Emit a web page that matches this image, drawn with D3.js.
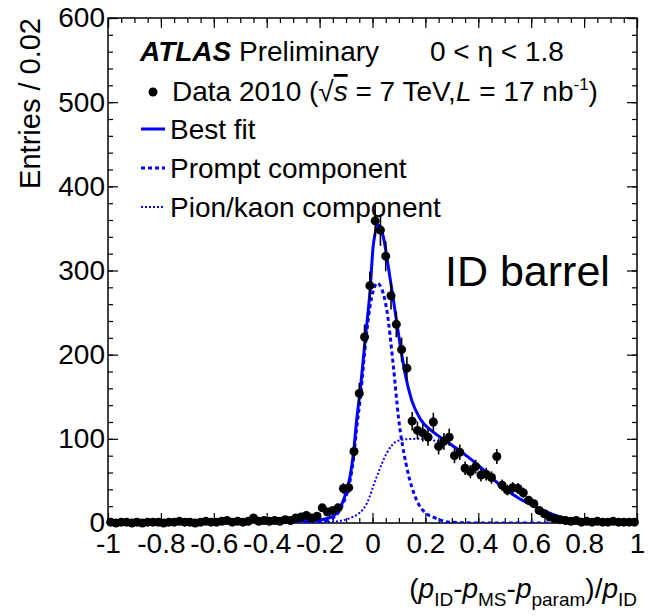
<!DOCTYPE html>
<html>
<head>
<meta charset="utf-8">
<script src="https://cdn.jsdelivr.net/npm/d3@7"></script>
<style>
  body { margin: 0; background: #fff; }
  text { font-family: 'Liberation Sans', Arial, Helvetica, sans-serif; fill: #000; }
</style>
</head>
<body>
<div id="chart"></div>
<script>
// Histogram: 100 bins of width 0.02 from -1 to 1
var binStart = -1
var binWidth = 0.02
var counts = [
  1, 0, 1, 1, 0, 1, 0, 1, 1, 1,
  0, 1, 1, 2, 1, 1, 0, 1, 2, 1,
  1, 2, 3, 1, 2, 1, 2, 6, 2, 3,
  2, 3, 2, 4, 3, 6, 7, 9, 6, 8,
  18, 13, 15, 18, 41, 42, 85, 154, 221, 282,
  359, 348, 317, 270, 236, 206, 184, 121, 110, 107,
  102, 120, 91, 97, 102, 80, 84, 65, 61, 67,
  57, 58, 54, 79, 45, 39, 42, 41, 36, 27,
  23, 15, 11, 7, 5, 4, 3, 2, 3, 1,
  2, 1, 2, 1, 1, 2, 1, 1, 1, 1
]

// fitted curves as [x, entries]
var bestFit = [
  [-1, 1], [-0.5, 1.5], [-0.3, 2], [-0.2, 3.5], [-0.15, 8], [-0.11, 27],
  [-0.085, 55], [-0.072, 83], [-0.06, 122], [-0.045, 162], [-0.028, 217],
  [-0.009, 277], [0.003, 330], [0.022, 354], [0.041, 340], [0.06, 304],
  [0.079, 265], [0.104, 213], [0.123, 178], [0.148, 146], [0.18, 124],
  [0.23, 108], [0.28, 97], [0.33, 86], [0.406, 67], [0.482, 45],
  [0.55, 30], [0.633, 17], [0.7, 8], [0.78, 2], [0.9, 0.5], [1, 0.3]
]
var promptComp = [
  [-1, 0], [-0.3, 0.3], [-0.2, 1.5], [-0.15, 6], [-0.11, 24], [-0.085, 50],
  [-0.072, 76], [-0.06, 112], [-0.045, 152], [-0.028, 208], [-0.009, 258],
  [0.003, 276], [0.018, 285], [0.035, 278], [0.054, 253], [0.079, 186],
  [0.098, 126], [0.129, 67], [0.167, 27], [0.2, 12], [0.23, 7], [0.29, 1],
  [0.4, 0], [1, 0]
]
var pionComp = [
  [-1, 0], [-0.3, 0.2], [-0.15, 1.5], [-0.073, 7.5], [-0.022, 23], [0.016, 55],
  [0.054, 83], [0.091, 97], [0.129, 99.5], [0.17, 100], [0.21, 99],
  [0.25, 97], [0.29, 94], [0.33, 85], [0.406, 67], [0.482, 45],
  [0.55, 30], [0.633, 17], [0.7, 8], [0.78, 2], [0.9, 0.5], [1, 0.3]
]

var xTicks = [-1, -0.8, -0.6, -0.4, -0.2, 0, 0.2, 0.4, 0.6, 0.8, 1]
var yTicks = [0, 100, 200, 300, 400, 500, 600]

var margin = { top: 18, left: 108, right: 11, bottom: 93 }
var width = 648 - margin.left - margin.right
var height = 616 - margin.top - margin.bottom

var svg = d3.select('#chart').append('svg')
  .attr('width', 648)
  .attr('height', 616)

var g = svg.append('g')
  .attr('transform', `translate(${margin.left},${margin.top})`)

var xPositionScale = d3.scaleLinear().domain([-1, 1]).range([0, width])
var yPositionScale = d3.scaleLinear().domain([0, 600]).range([height, 0])

g.append('clipPath').attr('id', 'plot-clip')
  .append('rect').attr('width', width).attr('height', height)

// axes, ticks pointing inwards on all four sides
var fmt = d => String(+d.toFixed(1))

function styleAxis(sel) {
  sel.select('.domain').remove()
  sel.selectAll('line').attr('stroke', '#000').attr('stroke-width', 1.2)
}

g.append('g').attr('transform', `translate(0,${height})`)
  .call(d3.axisBottom(xPositionScale).tickValues(xPositionScale.ticks(40)).tickSize(-5).tickFormat(''))
  .call(styleAxis)
var xAxis = g.append('g').attr('transform', `translate(0,${height})`)
  .call(d3.axisBottom(xPositionScale).tickValues(xTicks).tickSize(-10).tickFormat(fmt))
  .call(styleAxis)
xAxis.selectAll('text')
  .attr('y', 30).attr('dy', 0)
  .style('font-size', '28px')
  .style('font-family', "'Liberation Sans', Arial, sans-serif")

g.append('g')
  .call(d3.axisTop(xPositionScale).tickValues(xPositionScale.ticks(40)).tickSize(-5).tickFormat(''))
  .call(styleAxis)
g.append('g')
  .call(d3.axisTop(xPositionScale).tickValues(xTicks).tickSize(-10).tickFormat(''))
  .call(styleAxis)

g.append('g')
  .call(d3.axisLeft(yPositionScale).tickValues(yPositionScale.ticks(30)).tickSize(-5).tickFormat(''))
  .call(styleAxis)
var yAxis = g.append('g')
  .call(d3.axisLeft(yPositionScale).tickValues(yTicks).tickSize(-10).tickPadding(3))
  .call(styleAxis)
yAxis.selectAll('text')
  .style('font-size', '28px')
  .style('font-family', "'Liberation Sans', Arial, sans-serif")

g.append('g').attr('transform', `translate(${width},0)`)
  .call(d3.axisRight(yPositionScale).tickValues(yPositionScale.ticks(30)).tickSize(-5).tickFormat(''))
  .call(styleAxis)
g.append('g').attr('transform', `translate(${width},0)`)
  .call(d3.axisRight(yPositionScale).tickValues(yTicks).tickSize(-10).tickFormat(''))
  .call(styleAxis)

g.append('rect')
  .attr('width', width).attr('height', height)
  .attr('fill', 'none').attr('stroke', '#000').attr('stroke-width', 1.5)

// curves
var line = d3.line()
  .x(d => xPositionScale(d[0]))
  .y(d => yPositionScale(d[1]))
  .curve(d3.curveMonotoneX)

var curves = g.append('g').attr('clip-path', 'url(#plot-clip)')
curves.append('path').datum(pionComp)
  .attr('d', line).attr('fill', 'none').attr('stroke', '#0000ff')
  .attr('stroke-width', 2).attr('stroke-dasharray', '2,2')
curves.append('path').datum(promptComp)
  .attr('d', line).attr('fill', 'none').attr('stroke', '#0000ff')
  .attr('stroke-width', 3).attr('stroke-dasharray', '4,3')

// data points with sqrt(N) errors
var points = counts.map((c, i) => ({ x: binStart + (i + 0.5) * binWidth, n: c }))

g.selectAll('.err').data(points).enter().append('line')
  .attr('class', 'err')
  .attr('x1', d => xPositionScale(d.x)).attr('x2', d => xPositionScale(d.x))
  .attr('y1', d => yPositionScale(d.n + Math.sqrt(d.n)))
  .attr('y2', d => yPositionScale(Math.max(0, d.n - Math.sqrt(d.n))))
  .attr('stroke', '#000').attr('stroke-width', 1.6)

g.selectAll('.pt').data(points).enter().append('circle')
  .attr('class', 'pt')
  .attr('cx', d => xPositionScale(d.x))
  .attr('cy', d => yPositionScale(d.n))
  .attr('r', 4.5)
  .attr('fill', '#000')

curves.append('path').datum(bestFit)
  .attr('d', line).attr('fill', 'none').attr('stroke', '#0000ff')
  .attr('stroke-width', 3)

// legend and labels
var fs = '28px'
var t1 = svg.append('text').attr('x', 140).attr('y', 61).style('font-size', fs)
t1.append('tspan').style('font-weight', 'bold').style('font-style', 'italic').text('ATLAS')
t1.append('tspan').text(' Preliminary')
svg.append('text').attr('x', 430).attr('y', 61).style('font-size', fs)
  .text('0 < η < 1.8')

svg.append('circle').attr('cx', 153).attr('cy', 92).attr('r', 4.5).attr('fill', '#000')
var t2 = svg.append('text').attr('x', 172).attr('y', 101).style('font-size', fs)
t2.append('tspan').text('Data 2010 (√')
t2.append('tspan').style('font-style', 'italic').style('text-decoration', 'overline').text('s')
t2.append('tspan').text(' = 7 TeV,')
t2.append('tspan').style('font-style', 'italic').text('L')
t2.append('tspan').text(' = 17 nb')
t2.append('tspan').attr('dy', -11).style('font-size', '17px').text('-1')
t2.append('tspan').attr('dy', 11).text(')')

var legendRows = [
  { label: 'Best fit', y: 139, width: 3, dash: null },
  { label: 'Prompt component', y: 178, width: 3, dash: '4,3' },
  { label: 'Pion/kaon component', y: 217, width: 2, dash: '2,2' }
]
legendRows.forEach(function(r) {
  svg.append('line')
    .attr('x1', 141).attr('x2', 165)
    .attr('y1', r.y - 10).attr('y2', r.y - 10)
    .attr('stroke', '#0000ff').attr('stroke-width', r.width)
    .attr('stroke-dasharray', r.dash)
  svg.append('text').attr('x', 170).attr('y', r.y).style('font-size', fs).text(r.label)
})

svg.append('text').attr('x', 445).attr('y', 286).style('font-size', '43px').text('ID barrel')

// axis titles
svg.append('text')
  .attr('transform', 'translate(40,18) rotate(-90)')
  .attr('text-anchor', 'end')
  .style('font-size', '29px')
  .text('Entries / 0.02')

var xt = svg.append('text').attr('x', 637).attr('y', 598)
  .attr('text-anchor', 'end').style('font-size', fs)
xt.append('tspan').text('(')
xt.append('tspan').style('font-style', 'italic').text('p')
xt.append('tspan').attr('dy', 8).style('font-size', '19px').text('ID')
xt.append('tspan').attr('dy', -8).text('-')
xt.append('tspan').style('font-style', 'italic').text('p')
xt.append('tspan').attr('dy', 8).style('font-size', '19px').text('MS')
xt.append('tspan').attr('dy', -8).text('-')
xt.append('tspan').style('font-style', 'italic').text('p')
xt.append('tspan').attr('dy', 8).style('font-size', '19px').text('param')
xt.append('tspan').attr('dy', -8).text(')/')
xt.append('tspan').style('font-style', 'italic').text('p')
xt.append('tspan').attr('dy', 8).style('font-size', '19px').text('ID')
</script>
</body>
</html>
